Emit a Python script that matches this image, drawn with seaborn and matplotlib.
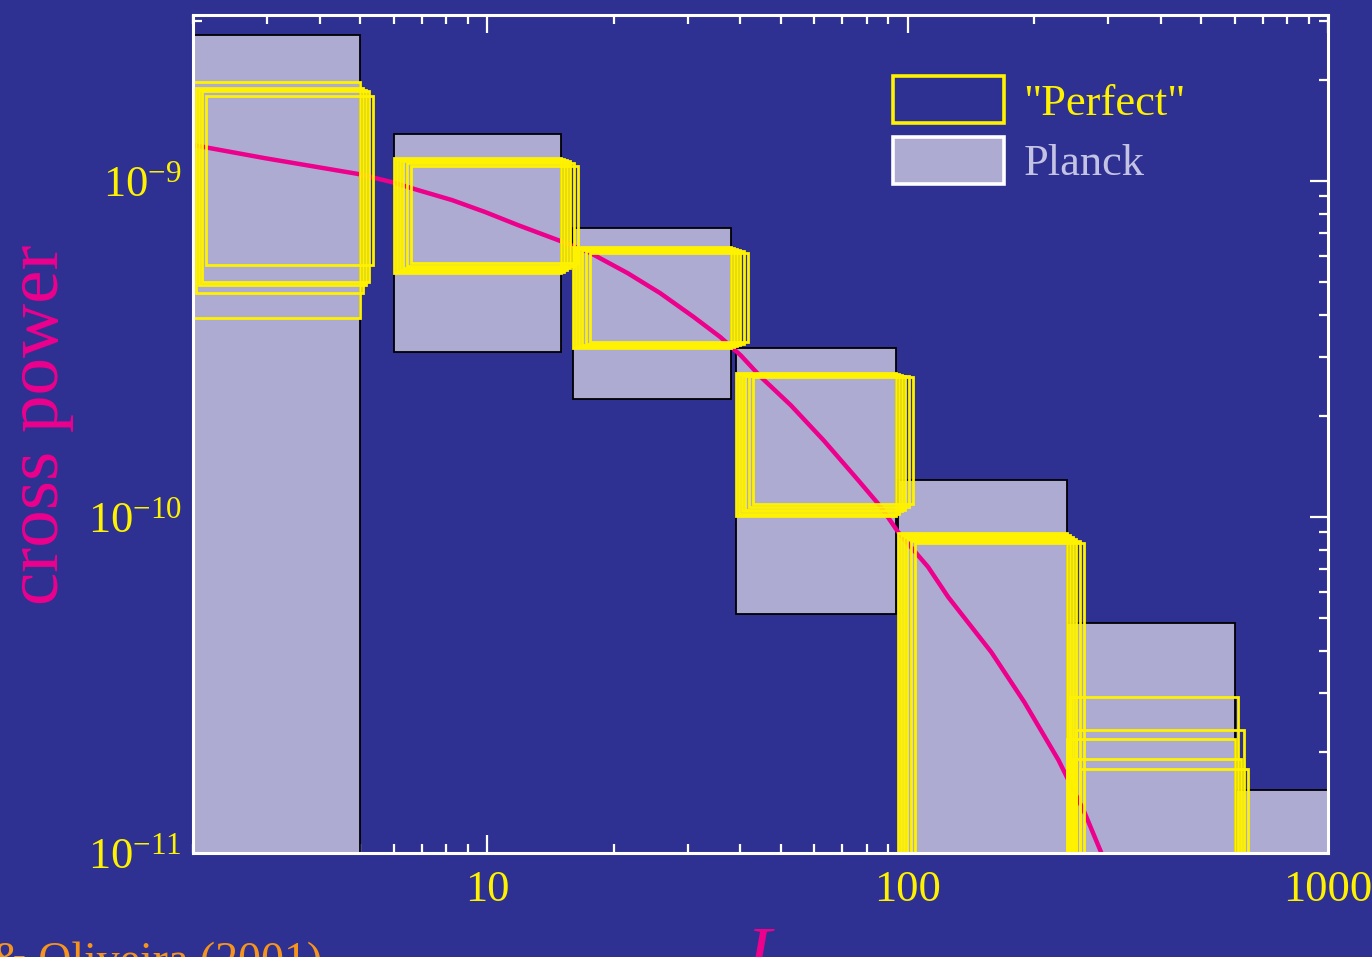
import numpy as np
import pandas as pd
import seaborn as sns
import matplotlib.pyplot as plt
from matplotlib.patches import Patch
from matplotlib.ticker import LogLocator, NullFormatter

# --- data ---
# Planck bins: multipole range and allowed cross-power range
planck_lmin = [2, 6, 16, 39, 95, 240, 605]
planck_lmax = [5, 15, 38, 94, 239, 600, 1500]
planck_lo = [1e-12, 3.1e-10, 2.24e-10, 5.14e-11, 1e-12, 1e-12, 1e-12]
planck_hi = [2.72e-9, 1.38e-9, 7.24e-10, 3.18e-10, 1.29e-10, 4.84e-11, 1.54e-11]

# "Perfect" experiment, several realisations per bin
perfect_lmin = [2, 6, 16, 39, 95, 239]
perfect_lmax = [5, 15, 38, 94, 239, 600]
perfect_lo = [
    [3.91e-10, 4.64e-10, 4.90e-10, 5.01e-10, 5.62e-10],
    [5.32e-10, 5.36e-10, 5.43e-10, 5.51e-10, 5.58e-10, 5.70e-10],
    [3.19e-10, 3.21e-10, 3.23e-10, 3.25e-10, 3.28e-10, 3.32e-10],
    [1.01e-10, 1.02e-10, 1.04e-10, 1.05e-10, 1.07e-10, 1.09e-10],
    [1e-12, 1e-12, 1e-12, 1e-12, 1e-12, 1e-12],
    [1e-12, 1e-12, 1e-12, 1e-12, 1e-12],
]
perfect_hi = [
    [1.97e-9, 1.89e-9, 1.87e-9, 1.85e-9, 1.79e-9],
    [1.17e-9, 1.16e-9, 1.155e-9, 1.15e-9, 1.13e-9, 1.11e-9],
    [6.37e-10, 6.33e-10, 6.28e-10, 6.24e-10, 6.20e-10, 6.11e-10],
    [2.68e-10, 2.66e-10, 2.64e-10, 2.63e-10, 2.62e-10, 2.61e-10],
    [8.96e-11, 8.84e-11, 8.72e-11, 8.60e-11, 8.48e-11, 8.37e-11],
    [2.18e-11, 2.91e-11, 1.90e-11, 2.32e-11, 1.78e-11],
]

# theory curve
curve_L = [2.0, 2.96, 3.96, 4.93, 5.94, 6.85, 8.25, 9.89, 11.86, 14.76, 17.6,
           21.6, 25.8, 31.0, 35.9, 40.1, 44.8, 52.8, 63.2, 76.2, 86.5, 94.9,
           111.9, 124.9, 158.2, 189.6, 228.5, 263.5, 289]
curve_P = [1.28e-9, 1.17e-9, 1.10e-9, 1.05e-9, 9.93e-10, 9.40e-10, 8.78e-10,
           8.09e-10, 7.39e-10, 6.67e-10, 6.11e-10, 5.32e-10, 4.64e-10,
           3.94e-10, 3.43e-10, 3.03e-10, 2.61e-10, 2.15e-10, 1.69e-10,
           1.29e-10, 1.07e-10, 9.03e-11, 7.10e-11, 5.78e-11, 3.96e-11,
           2.81e-11, 1.89e-11, 1.32e-11, 1.0e-11]

# --- style ---
bg = '#2e3192'
lav = '#aeabd3'
yellow = '#fff200'
magenta = '#ec008c'
orange = '#f7941d'
jitter = [1.0, 1.0166, 1.0335, 1.0507, 1.074, 1.0978]  # offsets so the boxes can be told apart

sns.set_style('ticks')
plt.rcParams['font.family'] = ['Liberation Serif', 'DejaVu Serif']
plt.rcParams['mathtext.fontset'] = 'custom'
plt.rcParams['mathtext.rm'] = 'Liberation Serif'
plt.rcParams['mathtext.it'] = 'Liberation Serif:italic'

fig = plt.figure(figsize=(13.72, 9.57), dpi=100)
fig.patch.set_facecolor(bg)
ax = fig.add_axes([0.1407, 0.1087, 0.8273, 0.8756])
ax.set_facecolor(bg)
ax.set_xscale('log')
ax.set_yscale('log')

# Planck boxes
lmin = np.array(planck_lmin, float)
lmax = np.array(planck_lmax, float)
ax.bar(x=lmin, width=lmax - lmin, bottom=planck_lo,
       height=np.array(planck_hi) - np.array(planck_lo), align='edge',
       color=lav, edgecolor='black', linewidth=1.3, zorder=1)

# theory curve
df = pd.DataFrame({'L': curve_L, 'P': curve_P})
sns.lineplot(data=df, x='L', y='P', ax=ax, color=magenta, linewidth=3.2,
             sort=False, zorder=3)

# "Perfect" boxes
for lo_l, hi_l, los, his in zip(perfect_lmin, perfect_lmax, perfect_lo, perfect_hi):
    for j, lo, hi in zip(jitter, los, his):
        ax.bar(x=lo_l * j, width=(hi_l - lo_l) * j, bottom=lo, height=hi - lo,
               align='edge', fill=False, edgecolor=yellow, linewidth=2.0,
               zorder=4)

ax.set_xlim(2, 1000)
ax.set_ylim(1e-11, 3.12e-9)
ax.set_xlabel('')
ax.set_ylabel('')

ax.set_xticks([10, 100, 1000])
ax.set_xticklabels(['10', '100', '1000'])
ax.xaxis.set_minor_locator(LogLocator(base=10, subs=np.arange(2, 10)))
ax.xaxis.set_minor_formatter(NullFormatter())
ax.set_yticks([1e-11, 1e-10, 1e-9])
ax.set_yticklabels([r'$10^{-11}$', r'$10^{-10}$', r'$10^{-9}$'])
ax.yaxis.set_minor_locator(LogLocator(base=10, subs=np.arange(2, 10)))
ax.yaxis.set_minor_formatter(NullFormatter())

ax.tick_params(which='both', direction='in', top=True, right=True,
               color='white', labelcolor=yellow, labelsize=32, width=1.6)
ax.tick_params(which='major', length=13)
ax.tick_params(which='minor', length=6.5)
ax.tick_params(axis='x', which='major', pad=12)
ax.tick_params(axis='y', which='major', pad=8)
for s in ax.spines.values():
    s.set_color('white')
    s.set_linewidth(2.2)
    s.set_zorder(6)

handles = [Patch(facecolor='none', edgecolor=yellow, linewidth=2.6),
           Patch(facecolor=lav, edgecolor='white', linewidth=2.6)]
ax.legend(handles, ['"Perfect"', 'Planck'], loc='upper left',
          bbox_to_anchor=(0.617, 0.927), frameon=False, fontsize=32,
          handlelength=2.5, handleheight=1.25, handletextpad=0.43,
          labelspacing=0.3, borderpad=0, borderaxespad=0,
          labelcolor=[yellow, '#c5c3e3'])

fig.text(0.029, 0.556, 'cross power', rotation=90, ha='center', va='center',
         color=magenta, fontsize=54)
fig.text(0.558, -0.02, r'$L$', ha='center', va='baseline', color=magenta,
         fontsize=52)
fig.text(0.235, -0.018, '& Oliveira (2001)', ha='right', va='baseline',
         color=orange, fontsize=33)

fig.savefig('out.png', dpi=100, facecolor=bg)
